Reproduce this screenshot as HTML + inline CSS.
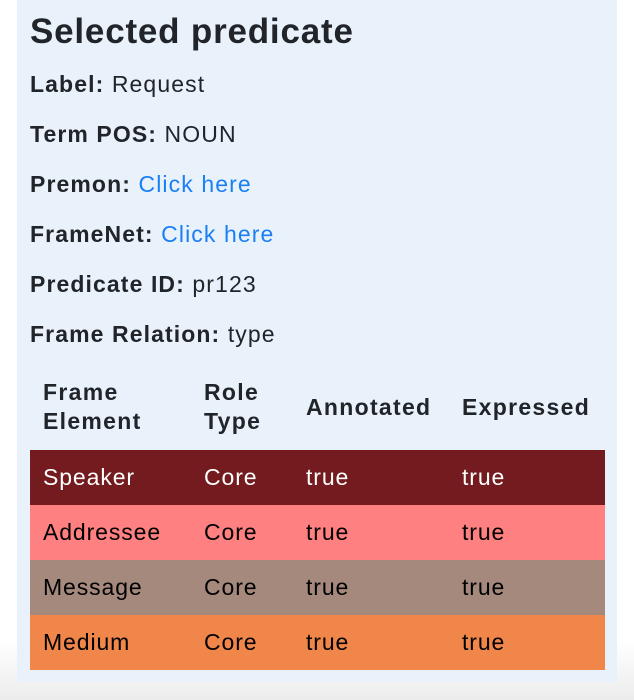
<!DOCTYPE html>
<html><head><style>
body{margin:0;width:634px;height:700px;background:linear-gradient(#fff 0,#fff 640px,#ececec 700px);font-family:"Liberation Sans",sans-serif;color:#212529;position:relative;overflow:hidden}
.p{position:absolute;left:17px;top:0;width:600px;height:682px;background:#e9f2fb}
.t{position:absolute;left:30px;top:12px;font-size:35px;font-weight:bold;margin:0;letter-spacing:0.8px}
.l{position:absolute;left:30px;font-size:23px;line-height:26px;letter-spacing:1.1px}
.l b{font-weight:bold}
a{color:#1a7ff5;text-decoration:none}
.r{position:absolute;left:30px;width:575px;height:55px;font-size:23px;line-height:55px;letter-spacing:0.9px}
.r span,.h span{position:absolute}
.h{position:absolute;left:30px;top:375px;width:575px;height:75px;font-size:23px;font-weight:bold;line-height:29px;letter-spacing:1.3px}
</style></head><body>
<div class="p"></div>
<div class="t">Selected predicate</div>
<div class="l" style="top:71px"><b>Label:</b> Request</div>
<div class="l" style="top:121px"><b>Term POS:</b> NOUN</div>
<div class="l" style="top:171px"><b>Premon:</b> <a>Click here</a></div>
<div class="l" style="top:221px"><b>FrameNet:</b> <a>Click here</a></div>
<div class="l" style="top:271px"><b>Predicate ID:</b> pr123</div>
<div class="l" style="top:321px"><b>Frame Relation:</b> type</div>
<div class="h">
<span style="left:13px;top:3px">Frame<br>Element</span>
<span style="left:174px;top:3px">Role<br>Type</span>
<span style="left:276px;top:18px">Annotated</span>
<span style="left:432px;top:18px">Expressed</span>
</div>
<div class="r" style="top:450px;background:#731b1e;color:#fff"><span style="left:13px">Speaker</span><span style="left:174px">Core</span><span style="left:276px">true</span><span style="left:432px">true</span></div>
<div class="r" style="top:505px;background:#fe8080;color:#000"><span style="left:13px">Addressee</span><span style="left:174px">Core</span><span style="left:276px">true</span><span style="left:432px">true</span></div>
<div class="r" style="top:560px;background:#a6897d;color:#000"><span style="left:13px">Message</span><span style="left:174px">Core</span><span style="left:276px">true</span><span style="left:432px">true</span></div>
<div class="r" style="top:615px;background:#f08649;color:#000"><span style="left:13px">Medium</span><span style="left:174px">Core</span><span style="left:276px">true</span><span style="left:432px">true</span></div>
</body></html>
